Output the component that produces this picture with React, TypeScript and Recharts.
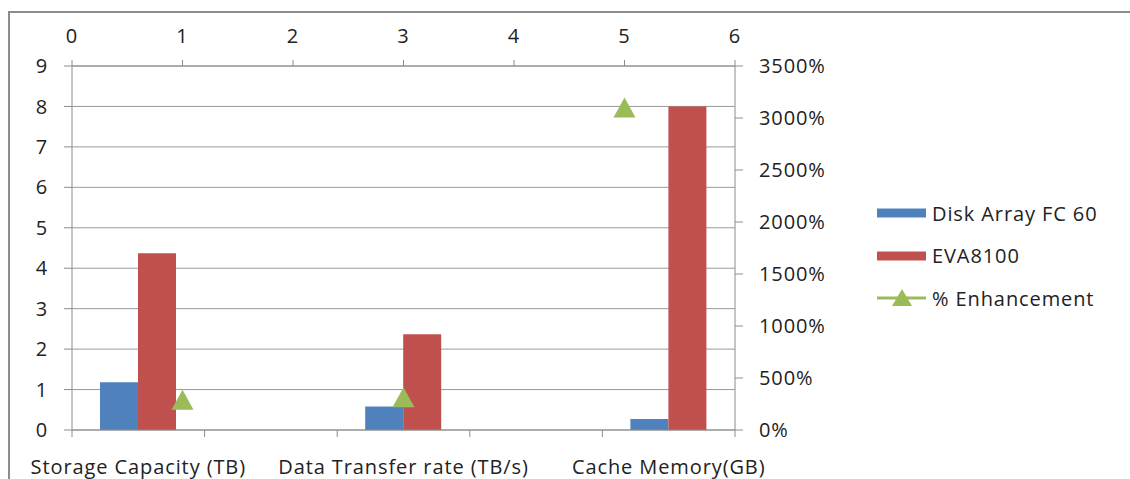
import React from 'react';
import { ComposedChart, Bar, Scatter, XAxis, YAxis, CartesianGrid, Legend } from 'recharts';

const categories = ['Storage Capacity (TB)', '', 'Data Transfer rate (TB/s)', '', 'Cache Memory(GB)'];
const diskArray = [1.18, null, 0.58, null, 0.27];
const eva8100 = [4.37, null, 2.37, null, 8];
const enhancementX = [1, 3, 5];
const enhancement = [290, 315, 3100];
const leftTicks = [0, 1, 2, 3, 4, 5, 6, 7, 8, 9];
const rightTicks = [0, 500, 1000, 1500, 2000, 2500, 3000, 3500];
const topTicks = [0, 1, 2, 3, 4, 5, 6];
// category boundaries (0..5) and category centres (0.5..4.5) on the bottom axis
const slotTicks = [0, 0.5, 1, 1.5, 2, 2.5, 3, 3.5, 4, 4.5, 5];

const BLUE = '#4F81BD';
const RED = '#C0504D';
const GREEN = '#9BBB59';
const AXIS = '#8c8c8c';
const FONT = '"Open Sans", sans-serif';

const data = categories.map((name, i) => ({
  name,
  slot: i + 0.5,
  disk: diskArray[i],
  eva: eva8100[i],
}));

const enhData = enhancementX.map((x, i) => ({ x, y: enhancement[i] }));

const legendItems = [
  { label: 'Disk Array FC 60', color: BLUE, kind: 'bar' },
  { label: 'EVA8100', color: RED, kind: 'bar' },
  { label: '% Enhancement', color: GREEN, kind: 'line' },
];

const Triangle = (props: any) => {
  const { cx, cy } = props;
  if (cx == null || cy == null) return null;
  return <polygon points={`${cx},${cy - 10} ${cx + 11},${cy + 10} ${cx - 11},${cy + 10}`} fill={GREEN} />;
};

const BottomTick = (props: any) => {
  const { x, y, payload } = props;
  const v = payload.value;
  if (Number.isInteger(v)) {
    return <line x1={x} x2={x} y1={y} y2={y + 7} stroke={AXIS} />;
  }
  const label = categories[Math.floor(v)];
  if (!label) return <g />;
  return (
    <text x={x} y={y + 44} textAnchor="middle" fontFamily={FONT} fontSize={20} letterSpacing={0.9} fill="#222">
      {label}
    </text>
  );
};

const renderLegend = () => (
  <div style={{ fontFamily: FONT, fontSize: 20, letterSpacing: 0.9, color: '#222' }}>
    {legendItems.map((item) => (
      <div key={item.label} style={{ display: 'flex', alignItems: 'center', height: 42.5 }}>
        <svg width={55} height={22} style={{ display: 'block' }}>
          {item.kind === 'bar' ? (
            <rect x={0} y={6.5} width={49} height={9} fill={item.color} />
          ) : (
            <>
              <line x1={0} y1={11} x2={49} y2={11} stroke={item.color} strokeWidth={3} />
              <polygon points="25,2 35,19 15,19" fill={item.color} />
            </>
          )}
        </svg>
        <span style={{ whiteSpace: 'nowrap' }}>{item.label}</span>
      </div>
    ))}
  </div>
);

const tickStyle = { fontFamily: FONT, fontSize: 20, letterSpacing: 0.9, fill: '#222' };

export default function App() {
  return (
    <div style={{ position: 'fixed', left: 0, top: 0, width: 1130, height: 479, overflow: 'hidden', background: '#fff' }}>
      <div
        style={{
          position: 'absolute',
          left: 8,
          top: 11,
          width: 1200,
          height: 600,
          borderTop: `2px solid ${AXIS}`,
          borderLeft: `2px solid ${AXIS}`,
        }}
      />
      <div style={{ position: 'absolute', left: 0, top: 0 }}>
        <ComposedChart
          width={1130}
          height={479}
          data={data}
          barGap={0}
          margin={{ top: 0, right: 0, bottom: 0, left: 0 }}
        >
          <CartesianGrid xAxisId="cat" yAxisId="left" vertical={false} stroke="#9a9a9a" />
          <XAxis xAxisId="cat" dataKey="name" height={0} hide />
          <XAxis
            xAxisId="slot"
            dataKey="slot"
            type="number"
            domain={[0, 5]}
            ticks={slotTicks}
            interval={0}
            height={49}
            tickLine={false}
            tickSize={0}
            tickMargin={0}
            stroke={AXIS}
            tick={BottomTick}
          />
          <XAxis
            xAxisId="top"
            dataKey="x"
            type="number"
            orientation="top"
            domain={[0, 6]}
            ticks={topTicks}
            height={66}
            tickSize={6}
            tickMargin={17}
            stroke={AXIS}
            tick={tickStyle}
            allowDataOverflow
          />
          <YAxis
            yAxisId="left"
            domain={[0, 9]}
            ticks={leftTicks}
            width={72}
            tickSize={8}
            tickMargin={16}
            stroke={AXIS}
            tick={tickStyle}
          />
          <YAxis
            yAxisId="right"
            orientation="right"
            domain={[0, 3500]}
            ticks={rightTicks}
            width={395}
            tickSize={8}
            tickMargin={16}
            stroke={AXIS}
            tick={tickStyle}
            tickFormatter={(v: number) => `${v}%`}
          />
          <Bar xAxisId="cat" yAxisId="left" dataKey="disk" name="Disk Array FC 60" fill={BLUE} barSize={38} isAnimationActive={false} />
          <Bar xAxisId="cat" yAxisId="left" dataKey="eva" name="EVA8100" fill={RED} barSize={38} isAnimationActive={false} />
          <Scatter
            xAxisId="top"
            yAxisId="right"
            data={enhData}
            dataKey="y"
            name="% Enhancement"
            fill={GREEN}
            shape={Triangle}
            isAnimationActive={false}
          />
          <Legend
            layout="vertical"
            align="center"
            verticalAlign="middle"
            wrapperStyle={{ left: 877, top: 192, width: 250, height: 130 }}
            content={renderLegend}
          />
        </ComposedChart>
      </div>
    </div>
  );
}
